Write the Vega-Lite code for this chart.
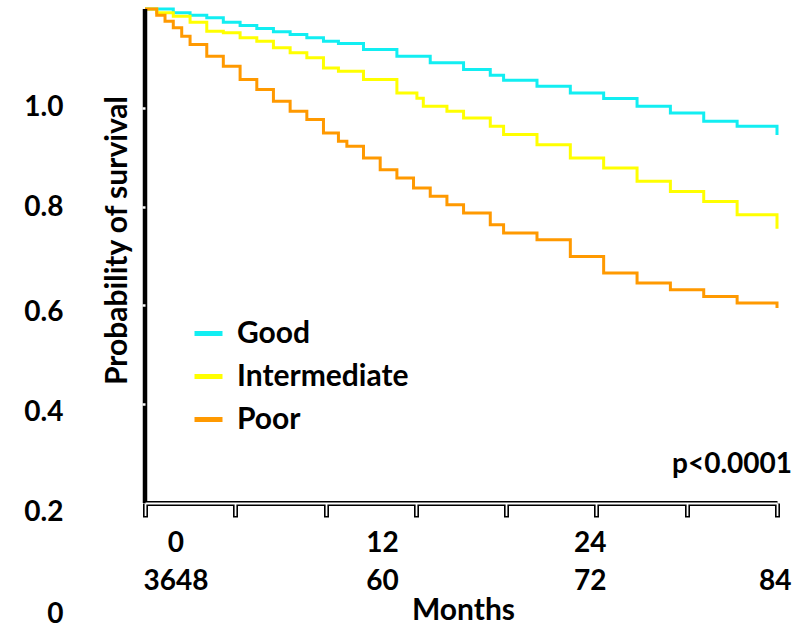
{
  "$schema": "https://vega.github.io/schema/vega-lite/v6.json",
  "width": 632,
  "height": 612.56,
  "autosize": {"type": "none"},
  "padding": {"left": 145, "top": 9, "right": 32, "bottom": 6.44},
  "background": "white",
  "config": {"view": {"stroke": null}, "font": "Lato", "axis": {"grid": false}},
  "datasets": {
    "curves": [
      {"group": "Good", "month": 0, "surv": 1.0},
      {"group": "Good", "month": 3.76, "surv": 0.9923},
      {"group": "Good", "month": 5.99, "surv": 0.9874},
      {"group": "Good", "month": 8.21, "surv": 0.9822},
      {"group": "Good", "month": 10.41, "surv": 0.9733},
      {"group": "Good", "month": 12.64, "surv": 0.9666},
      {"group": "Good", "month": 14.86, "surv": 0.9605},
      {"group": "Good", "month": 17.07, "surv": 0.9538},
      {"group": "Good", "month": 19.29, "surv": 0.9483},
      {"group": "Good", "month": 21.51, "surv": 0.9416},
      {"group": "Good", "month": 23.72, "surv": 0.9347},
      {"group": "Good", "month": 25.71, "surv": 0.9301},
      {"group": "Good", "month": 29.04, "surv": 0.9179},
      {"group": "Good", "month": 33.48, "surv": 0.9044},
      {"group": "Good", "month": 37.91, "surv": 0.891},
      {"group": "Good", "month": 42.34, "surv": 0.8774},
      {"group": "Good", "month": 45.89, "surv": 0.8658},
      {"group": "Good", "month": 47.66, "surv": 0.8557},
      {"group": "Good", "month": 52.1, "surv": 0.8436},
      {"group": "Good", "month": 56.53, "surv": 0.8302},
      {"group": "Good", "month": 60.96, "surv": 0.8186},
      {"group": "Good", "month": 65.4, "surv": 0.803},
      {"group": "Good", "month": 69.83, "surv": 0.7897},
      {"group": "Good", "month": 74.26, "surv": 0.7726},
      {"group": "Good", "month": 78.7, "surv": 0.7625},
      {"group": "Good", "month": 84, "surv": 0.7451},
      {"group": "Intermediate", "month": 0, "surv": 1.0},
      {"group": "Intermediate", "month": 1.56, "surv": 0.9923},
      {"group": "Intermediate", "month": 3.76, "surv": 0.9854},
      {"group": "Intermediate", "month": 5.99, "surv": 0.9733},
      {"group": "Intermediate", "month": 8.21, "surv": 0.955},
      {"group": "Intermediate", "month": 10.41, "surv": 0.9518},
      {"group": "Intermediate", "month": 12.64, "surv": 0.9416},
      {"group": "Intermediate", "month": 14.86, "surv": 0.9347},
      {"group": "Intermediate", "month": 17.07, "surv": 0.9214},
      {"group": "Intermediate", "month": 19.29, "surv": 0.9113},
      {"group": "Intermediate", "month": 21.51, "surv": 0.9011},
      {"group": "Intermediate", "month": 23.72, "surv": 0.8808},
      {"group": "Intermediate", "month": 25.71, "surv": 0.874},
      {"group": "Intermediate", "month": 29.04, "surv": 0.8571},
      {"group": "Intermediate", "month": 33.48, "surv": 0.8302},
      {"group": "Intermediate", "month": 36.14, "surv": 0.8192},
      {"group": "Intermediate", "month": 36.99, "surv": 0.803},
      {"group": "Intermediate", "month": 40.13, "surv": 0.7929},
      {"group": "Intermediate", "month": 42.34, "surv": 0.7795},
      {"group": "Intermediate", "month": 45.89, "surv": 0.7625},
      {"group": "Intermediate", "month": 47.66, "surv": 0.7457},
      {"group": "Intermediate", "month": 52.1, "surv": 0.7254},
      {"group": "Intermediate", "month": 56.53, "surv": 0.6985},
      {"group": "Intermediate", "month": 60.96, "surv": 0.6782},
      {"group": "Intermediate", "month": 65.4, "surv": 0.6511},
      {"group": "Intermediate", "month": 69.83, "surv": 0.6308},
      {"group": "Intermediate", "month": 74.26, "surv": 0.6105},
      {"group": "Intermediate", "month": 78.7, "surv": 0.5836},
      {"group": "Intermediate", "month": 84, "surv": 0.5552},
      {"group": "Poor", "month": 0, "surv": 1.0},
      {"group": "Poor", "month": 1.56, "surv": 0.9874},
      {"group": "Poor", "month": 2.66, "surv": 0.9753},
      {"group": "Poor", "month": 3.76, "surv": 0.9619},
      {"group": "Poor", "month": 4.88, "surv": 0.9449},
      {"group": "Poor", "month": 5.99, "surv": 0.9281},
      {"group": "Poor", "month": 8.21, "surv": 0.9044},
      {"group": "Poor", "month": 10.41, "surv": 0.8841},
      {"group": "Poor", "month": 12.64, "surv": 0.8571},
      {"group": "Poor", "month": 14.86, "surv": 0.8369},
      {"group": "Poor", "month": 17.07, "surv": 0.8132},
      {"group": "Poor", "month": 19.29, "surv": 0.7929},
      {"group": "Poor", "month": 21.51, "surv": 0.7761},
      {"group": "Poor", "month": 23.72, "surv": 0.7491},
      {"group": "Poor", "month": 25.71, "surv": 0.7321},
      {"group": "Poor", "month": 26.83, "surv": 0.722},
      {"group": "Poor", "month": 29.04, "surv": 0.6985},
      {"group": "Poor", "month": 31.26, "surv": 0.6748},
      {"group": "Poor", "month": 33.48, "surv": 0.658},
      {"group": "Poor", "month": 35.69, "surv": 0.6377},
      {"group": "Poor", "month": 37.91, "surv": 0.6207},
      {"group": "Poor", "month": 40.13, "surv": 0.6039},
      {"group": "Poor", "month": 42.34, "surv": 0.587},
      {"group": "Poor", "month": 45.89, "surv": 0.5633},
      {"group": "Poor", "month": 47.66, "surv": 0.5465},
      {"group": "Poor", "month": 52.1, "surv": 0.5329},
      {"group": "Poor", "month": 56.53, "surv": 0.4991},
      {"group": "Poor", "month": 60.96, "surv": 0.4655},
      {"group": "Poor", "month": 65.4, "surv": 0.4452},
      {"group": "Poor", "month": 69.83, "surv": 0.4316},
      {"group": "Poor", "month": 74.26, "surv": 0.418},
      {"group": "Poor", "month": 78.7, "surv": 0.4047},
      {"group": "Poor", "month": 84, "surv": 0.3945}
    ],
    "annotation": [{"label": "p<0.0001"}]
  },
  "layer": [
    {
      "data": {"name": "curves"},
      "mark": {"type": "line", "interpolate": "step-after", "strokeWidth": 3},
      "encoding": {
        "x": {
          "field": "month", "type": "quantitative",
          "scale": {"domain": [0, 84], "nice": false, "zero": false},
          "axis": {
            "orient": "bottom", "offset": -118.56, "values": [0, 12, 24, 36, 48, 60, 72, 84],
            "labels": false, "domain": true, "domainColor": "black", "domainWidth": 5,
            "ticks": true, "tickColor": "black", "tickWidth": 5, "tickSize": 14,
            "title": "Months", "titleFont": "Lato", "titleFontSize": 30, "titleFontWeight": "bold",
            "titleColor": "black", "titleX": 318, "titleY": 116, "titleAlign": "center",
            "titleBaseline": "alphabetic", "grid": false
          }
        },
        "y": {
          "field": "surv", "type": "quantitative",
          "scale": {"domain": [-0.24, 1], "nice": false, "zero": false},
          "axis": {
            "orient": "left", "values": [0.2, 0.4, 0.6, 0.8], "labels": false, "domain": false,
            "ticks": true, "tickColor": "white", "tickWidth": 2.5, "tickSize": 3, "zindex": 1,
            "title": "Probability of survival", "titleFont": "Lato", "titleFontSize": 30,
            "titleFontWeight": "bold", "titleColor": "black", "titleX": -19, "titleY": 231,
            "titleAngle": 270, "titleAlign": "center", "titleBaseline": "alphabetic", "grid": false
          }
        },
        "color": {
          "field": "group", "type": "nominal",
          "scale": {"domain": ["Good", "Intermediate", "Poor"], "range": ["#12EEF2", "#FFFF00", "#FF9900"]},
          "legend": {
            "orient": "none", "legendX": 47, "legendY": 308, "title": null,
            "symbolType": "stroke", "symbolSize": 784, "symbolStrokeWidth": 5,
            "labelFont": "Lato", "labelFontSize": 30, "labelFontWeight": "bold", "labelColor": "black",
            "labelLimit": 0, "labelOffset": 12, "rowPadding": 11, "padding": 0, "labelBaseline": "middle"
          }
        }
      }
    },
    {
      "data": {"name": "annotation"},
      "mark": {"type": "rule", "strokeWidth": 4.5, "color": "black"},
      "encoding": {
        "x": {
          "datum": 0, "type": "quantitative",
          "scale": {"domain": [0, 84], "nice": false, "zero": false},
          "axis": {
            "orient": "bottom", "offset": -118.56, "values": [0, 12, 24, 36, 48, 60, 72, 84],
            "labels": false, "domain": true, "domainColor": "white", "domainWidth": 2,
            "ticks": true, "tickColor": "white", "tickWidth": 1.8, "tickSize": 12.5,
            "title": null, "zindex": 1, "grid": false
          }
        },
        "y": {
          "datum": 0, "type": "quantitative",
          "scale": {"domain": [-0.24, 1], "nice": false, "zero": false},
          "axis": {
            "orient": "left", "values": [0.8016, 0.5972, 0.3866, 0.1842, -0.0202, -0.2267],
            "labelExpr": "datum.value > 0.7 ? '1.0' : datum.value > 0.5 ? '0.8' : datum.value > 0.3 ? '0.6' : datum.value > 0.1 ? '0.4' : datum.value > -0.1 ? '0.2' : '0'",
            "domain": false, "ticks": false, "tickSize": 0, "labelPadding": 82,
            "labelFont": "Lato", "labelFontSize": 28, "labelFontWeight": "bold", "labelColor": "black",
            "labelOverlap": false, "labelBound": false, "labelFlush": false,
            "labelBaseline": "middle", "labelAlign": "right", "title": null, "grid": false
          }
        },
        "y2": {"datum": 1}
      }
    },
    {
      "data": {"name": "annotation"},
      "mark": {"type": "text", "align": "right", "baseline": "alphabetic", "dx": 15,
               "font": "Lato", "fontSize": 28, "fontWeight": "bold", "color": "black"},
      "encoding": {
        "text": {"field": "label", "type": "nominal"},
        "x": {
          "datum": 84, "type": "quantitative",
          "scale": {"domain": [0, 84], "nice": false, "zero": false},
          "axis": {
            "orient": "bottom", "offset": -118.56, "values": [4.05, 31.5, 59.1, 83.7],
            "labelExpr": "datum.value < 10 ? ['0','3648'] : datum.value < 40 ? ['12','60'] : datum.value < 70 ? ['24','72'] : ['','84']",
            "domain": false, "ticks": false, "tickSize": 0, "labelPadding": 26.5,
            "labelBaseline": "top", "labelLineHeight": 37.5,
            "labelFont": "Lato", "labelFontSize": 28, "labelFontWeight": "bold", "labelColor": "black",
            "labelOverlap": false, "labelBound": false, "labelFlush": false, "labelAlign": "center",
            "title": null, "grid": false
          }
        },
        "y": {
          "datum": 0.0607, "type": "quantitative",
          "scale": {"domain": [-0.24, 1], "nice": false, "zero": false},
          "axis": null
        }
      }
    }
  ],
  "resolve": {"axis": {"x": "independent", "y": "independent"}}
}
